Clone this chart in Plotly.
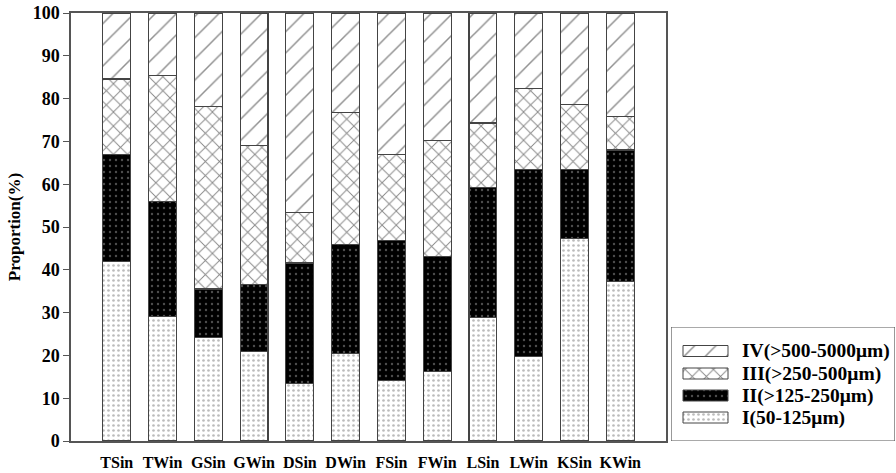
import plotly.graph_objects as go

categories = ["TSin", "TWin", "GSin", "GWin", "DSin", "DWin", "FSin", "FWin", "LSin", "LWin", "KSin", "KWin"]
series_names = ["I(50-125μm)", "II(>125-250μm)", "III(>250-500μm)", "IV(>500-5000μm)"]
size_I = [42.0, 29.1, 24.1, 21.0, 13.4, 20.4, 14.2, 16.3, 28.9, 19.8, 47.4, 37.2]
size_II = [25.0, 26.9, 11.4, 15.5, 28.2, 25.5, 32.6, 26.8, 30.4, 43.7, 16.1, 30.8]
size_III = [17.6, 29.4, 42.6, 32.5, 11.7, 30.9, 20.2, 27.2, 15.0, 18.9, 15.2, 7.8]
size_IV = [15.4, 14.6, 21.9, 31.0, 46.7, 23.2, 33.0, 29.7, 25.7, 17.6, 21.3, 24.2]
y_ticks = [0, 10, 20, 30, 40, 50, 60, 70, 80, 90, 100]

styles = [
    dict(color="white", pattern=dict(shape=".", fgcolor="#777777", bgcolor="white", size=5, solidity=0.22)),
    dict(color="black", pattern=dict(shape=".", fgcolor="#9a9a9a", bgcolor="black", size=6, solidity=0.12)),
    dict(color="white", pattern=dict(shape="x", fgcolor="#111111", bgcolor="white", size=10, solidity=0.18)),
    dict(color="white", pattern=dict(shape="/", fgcolor="#222222", bgcolor="white", size=15, solidity=0.1)),
]

font_family = "Liberation Serif"
W, H = 896, 473
ML, MR, MT, MB = 71, 0, 13, 32
plot_right = 666
inner_w = W - ML - MR
main_dom = (plot_right - ML) / inner_w

fig = go.Figure()
for name, vals, st in zip(series_names, [size_I, size_II, size_III, size_IV], styles):
    fig.add_trace(go.Bar(
        x=list(range(len(categories))), y=vals, name=name, width=0.61,
        marker=dict(color=st["color"], pattern=st["pattern"], line=dict(color="#444444", width=1.2)),
        showlegend=False, xaxis="x", yaxis="y",
    ))

# custom legend (wide patterned swatches) in an auxiliary axes
leg_left_px, leg_right_px = 671, 895
leg_dom = [(leg_left_px - ML) / inner_w, (leg_right_px - ML) / inner_w]
leg_top_px, leg_bot_px = 327, 441
inner_h = H - MT - MB
leg_ydom = [(H - MB - leg_bot_px) / inner_h, (H - MB - leg_top_px) / inner_h]
leg_w = leg_right_px - leg_left_px
leg_h = leg_bot_px - leg_top_px
row_centers = [90, 67.5, 45.5, 23.5]  # IV, III, II, I (px from legend bottom)
order = [3, 2, 1, 0]
for rc, idx in zip(row_centers, order):
    st = styles[idx]
    fig.add_trace(go.Scatter(
        x=[12, 57, 57, 12, 12], y=[rc - 5.5, rc - 5.5, rc + 5.5, rc + 5.5, rc - 5.5],
        mode="lines", fill="toself", fillcolor=st["color"],
        fillpattern=dict(shape=st["pattern"]["shape"], fgcolor=st["pattern"]["fgcolor"],
                         bgcolor=st["pattern"]["bgcolor"], size=st["pattern"]["size"],
                         solidity=st["pattern"]["solidity"]),
        line=dict(color="#444444", width=1), showlegend=False, hoverinfo="skip",
        xaxis="x2", yaxis="y2",
    ))
    fig.add_annotation(x=69, y=rc, xref="x2", yref="y2", text=series_names[idx],
                       showarrow=False, xanchor="left", yanchor="middle",
                       font=dict(family=font_family, size=19.5, color="black", weight="bold"))

fig.add_shape(type="rect", xref="x2", yref="y2", x0=0, x1=leg_w, y0=0, y1=leg_h,
              line=dict(color="#555555", width=1.2), fillcolor="rgba(0,0,0,0)")

fig.update_layout(
    barmode="stack",
    width=W, height=H,
    margin=dict(l=ML, r=MR, t=MT, b=MB, autoexpand=False),
    plot_bgcolor="white", paper_bgcolor="white",
    font=dict(family=font_family, color="black"),
    showlegend=False,
    xaxis=dict(
        domain=[0, main_dom],
        range=[-1, 12], tickmode="array", tickvals=list(range(len(categories))), ticktext=categories,
        showgrid=False, showline=True, linecolor="#555555", linewidth=1.5, mirror=True,
        ticks="", tickfont=dict(family=font_family, size=16, weight="bold"),
        ticklabelstandoff=6, automargin=False,
    ),
    yaxis=dict(
        range=[0, 100], tickmode="array", tickvals=y_ticks,
        showgrid=False, showline=True, linecolor="#555555", linewidth=1.5, mirror=True,
        ticks="outside", ticklen=6, tickcolor="#555555",
        tickfont=dict(family=font_family, size=18, weight="bold"),
        title=dict(text="Proportion(%)", font=dict(family=font_family, size=17, weight="bold"), standoff=8),
        zeroline=False, automargin=False,
    ),
    xaxis2=dict(domain=leg_dom, range=[0, leg_w], visible=False, fixedrange=True),
    yaxis2=dict(domain=leg_ydom, range=[0, leg_h], visible=False, fixedrange=True, anchor="x2"),
)
fig.update_layout(xaxis2_anchor="y2")

fig.write_html("out.html", config={"displayModeBar": False},
               post_script="document.body.style.margin='0';document.body.style.overflow='hidden';")
